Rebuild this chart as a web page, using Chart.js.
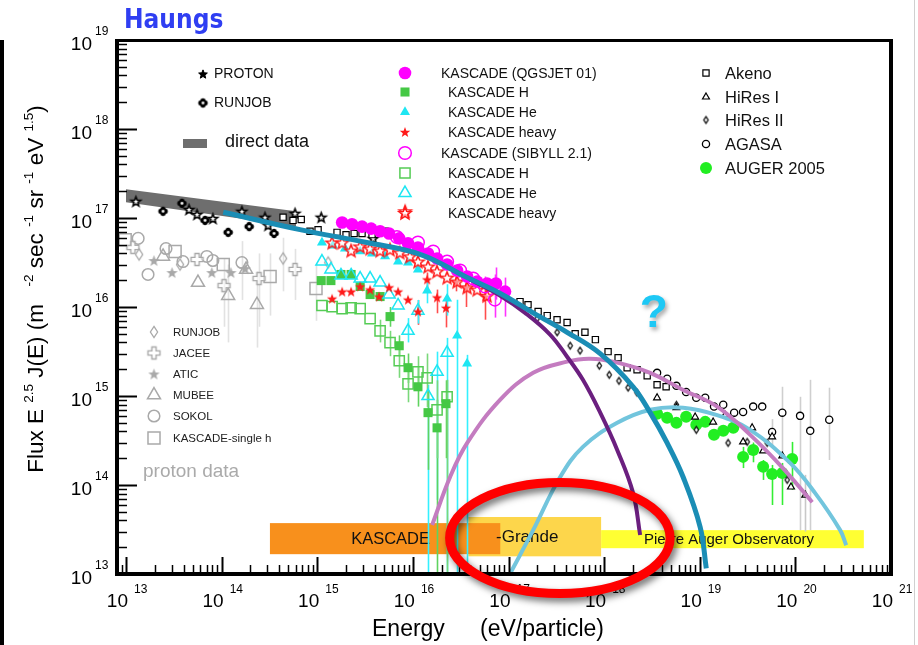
<!DOCTYPE html>
<html><head><meta charset="utf-8">
<script src="https://cdn.jsdelivr.net/npm/chart.js@4.4.1/dist/chart.umd.min.js"></script>
<style>html,body{margin:0;padding:0;background:#fff;}canvas{display:block;}</style>
</head><body>
<canvas id="c" width="918" height="645"></canvas>
<script>
// ================= DATA (energy eV, flux E^2.5 J(E)) =================
const xTickExponents = [13,14,15,16,17,18,19,20,21];
const yTickExponents = [13,14,15,16,17,18,19];

const directUpper = [[1.0e13,2.10e17],[6.0e14,1.19e17]];
const directLower = [[1.0e13,1.50e17],[6.0e14,8.0e16]];

const protonBlack = [[1.27e13,1.54e17],[4.56e13,1.25e17],[5.53e13,1.10e17],[8.1e13,9.9e16],[1.63e14,1.19e17],[2.84e14,1.02e17],[3.06e14,8.3e16],[5.86e14,1.13e17],[1.10e15,1.02e17],[3.84e15,5.9e16]];
const runjobBlack = [[2.44e13,1.19e17],[3.85e13,1.46e17],[6.7e13,9.4e16],[1.17e14,6.9e16],[1.94e14,8.0e16],[3.53e14,6.7e16]];

const runjobGray = [[1.37e13,3.89e16],[3.67e13,3.00e16],[4.39e14,3.51e16,1.5e16,6.0e16],[1.30e15,3.16e16]];
const jacee = [[1.18e13,4.67e16],[5.53e13,3.42e16],[1.06e14,1.74e16,6.0e15,3.5e16],[2.46e14,2.09e16,6.0e15,4.0e16],[5.86e14,2.64e16,1.2e16,4.5e16]];
const atic = [[1.96e13,3.33e16],[3.03e13,2.44e16],[7.9e13,2.44e16],[1.25e14,2.44e16],[1.76e14,2.70e16]];
const mubee = [[2.44e13,3.70e16],[5.66e13,1.88e16],[1.17e14,1.34e16,4.0e15,3.0e16],[1.80e14,2.64e16],[2.34e14,1.06e16,3.5e15,2.5e16]];
const sokol = [[1.34e13,5.9e16],[1.70e13,2.32e16],[2.62e13,4.54e16],[3.94e13,3.24e16],[7.0e13,3.70e16],[8.1e13,3.33e16],[1.63e14,3.16e16,1.2e16,5.5e16]];
const kascadeSingleH = [[9.8e12,5.7e16],[3.26e13,4.21e16],[1.04e14,3.00e16],[3.21e14,2.20e16,8.0e15,4.0e16],[9.7e14,1.61e16,7.0e15,3.0e16]];

const kascadeQgsAll = [[1.82e15,8.9e16],[2.31e15,8.5e16],[2.94e15,8.0e16],[3.66e15,7.6e16],[4.54e15,7.1e16],[5.64e15,6.7e16],[7.2e15,5.9e16],[8.9e15,5.2e16],[1.13e16,4.67e16],[1.44e16,3.99e16],[1.79e16,3.51e16],[2.28e16,3.00e16],[2.90e16,2.57e16],[3.69e16,2.20e16],[4.70e16,1.93e16],[5.97e16,1.84e16],[7.4e16,1.84e16,1.21e16,2.78e16],[9.2e16,1.49e16,7.8e15,2.14e16]];
const kascadeQgsH = [[1.10e15,1.98e16],[1.39e15,1.98e16],[1.77e15,2.32e16],[2.26e15,2.32e16],[2.81e15,1.70e16],[3.57e15,1.38e16],[4.54e15,1.31e16],[5.77e15,7.8e15,6.0e15,1.0e16],[7.2e15,3.67e15,2.8e15,4.8e15],[8.9e15,2.08e15,1.4e15,3.0e15],[1.13e16,1.27e15,7.6e14,2.1e15],[1.44e16,6.5e14,1.48e14,1.17e15],[1.79e16,4.39e14,1.0e13,9.1e14],[2.22e16,8.2e14,2.0e14,1.5e15]];
const kascadeQgsHe = [[1.12e15,5.3e16],[1.46e15,4.91e16],[1.95e15,4.54e16],[2.81e15,4.21e16],[3.74e15,3.99e16],[5.12e15,3.70e16],[7.0e15,3.24e16],[8.9e15,3.16e16],[1.13e16,2.64e16],[1.41e16,1.53e16,1.1e16,2.0e16],[2.28e16,1.24e16,8.0e15,1.8e16],[2.90e16,4.76e15,1.0e13,1.21e16],[3.69e16,2.31e15,1.0e13,2.9e15]];
const kascadeQgsHeavy = [[1.43e15,1.24e16],[1.82e15,1.49e16],[2.26e15,1.49e16],[2.81e15,1.70e16],[3.57e15,1.57e16],[4.43e15,1.31e16],[5.64e15,1.66e16],[7.0e15,1.49e16],[8.9e15,1.21e16],[1.13e16,8.9e15,6.3e15,1.2e16],[1.41e16,2.04e16,1.57e16,2.44e16],[1.79e16,1.28e16,8.5e15,1.57e16],[2.22e16,9.8e15,5.9e15,1.3e16],[2.83e16,1.93e16,1.5e16,2.3e16],[3.61e16,1.66e16,1.0e16,2.14e16],[5.69e16,1.31e16,7.2e15,1.7e16]];
const kascadeSibAll = [[6.8e15,6.1e16],[1.13e16,5.3e16],[1.63e16,4.2e16],[2.28e16,3.24e16],[3.12e16,2.57e16],[4.27e16,2.09e16],[5.69e16,1.70e16,1.3e16,2.2e16],[7.2e16,1.21e16,7.6e15,2.32e16]];
const kascadeSibH = [[1.12e15,1.04e16],[1.43e15,1.01e16],[1.82e15,9.6e15],[2.26e15,9.8e15],[2.81e15,9.6e15],[3.57e15,7.4e15],[4.54e15,5.4e15,4.0e15,7.2e15],[5.77e15,3.97e15,2.8e15,5.4e15],[7.2e15,2.49e15,1.6e15,3.6e15],[8.9e15,1.37e15,8.5e14,2.2e15],[1.13e16,1.87e15,1.2e15,2.8e15],[1.41e16,1.60e15,7.5e14,3.0e15],[1.79e16,7.0e14,2.0e14,1.5e15],[2.28e16,9.8e14,1.0e13,1.52e15]];
const kascadeSibHe = [[1.12e15,3.24e16],[1.39e15,2.64e16],[1.77e15,2.26e16],[2.26e15,2.26e16],[2.81e15,2.09e16],[3.57e15,2.09e16],[4.54e15,1.88e16],[5.64e15,1.38e16],[7.0e15,1.04e16],[8.9e15,5.4e15,4.0e15,7.5e15],[1.13e16,9.1e15,6.5e15,1.2e16],[1.44e16,1.00e15,1.0e13,1.34e15],[1.79e16,1.87e15,6.8e13,3.15e15],[2.28e16,3.06e15,1.0e13,4.5e15]];
const kascadeSibHeavy = [[1.43e15,5.3e16],[1.82e15,5.3e16],[2.26e15,4.31e16],[2.81e15,4.79e16],[3.57e15,4.54e16],[4.54e15,4.31e16],[5.77e15,4.43e16],[7.3e15,4.10e16],[8.3e15,1.19e17],[9.3e15,3.70e16],[1.13e16,3.24e16],[1.44e16,2.85e16],[1.79e16,2.51e16],[2.28e16,2.14e16],[2.90e16,1.93e16],[3.69e16,1.66e16],[4.70e16,1.57e16],[5.97e16,1.34e16]];

const akeno = [[4.39e14,1.02e17],[5.58e14,9.4e16],[6.8e14,9.6e16],[8.4e14,7.1e16],[1.02e15,7.4e16],[1.61e15,6.9e16],[2.00e15,6.5e16],[2.43e15,6.7e16],[2.94e15,6.7e16],[3.74e15,6.5e16],[5.12e15,7.1e16],[1.25e16,4.10e16],[1.79e16,3.42e16],[1.32e17,1.15e16],[1.60e17,1.06e16],[2.04e17,8.9e15],[2.54e17,8.0e15],[3.22e17,7.2e15],[4.1e17,6.7e15],[4.98e17,5.0e15],[6.3e17,5.2e15],[8.1e17,4.30e15],[1.10e18,3.15e15],[1.40e18,2.69e15],[1.74e18,2.08e15],[2.21e18,1.97e15],[2.82e18,1.69e15],[3.58e18,1.34e15],[4.45e18,1.27e15]];
const hiresI = [[3.58e18,9.55e14],[5.7e18,7.4e14],[8.95e18,5.8e14],[1.38e19,5.1e14],[1.84e19,6.1e14],[2.84e19,3.05e14],[3.53e19,4.39e14],[4.60e19,2.42e14],[5.71e19,3.48e14],[7.3e19,2.12e14],[9.0e19,9.5e13],[1.27e20,7.7e13,3.0e13,1.3e14]];
const hiresII = [[1.99e17,7.4e15],[3.22e17,5.2e15],[4.41e17,3.67e15],[5.6e17,3.23e15],[8.9e17,2.19e15],[1.13e18,1.73e15],[1.43e18,1.48e15],[1.78e18,1.24e15],[2.21e18,1.09e15],[5.7e18,7.96e14],[9.2e18,4.16e14],[1.98e19,2.97e14],[3.13e19,3.05e14],[5.07e19,2.97e14],[8.2e19,1.14e14]];
const agasa = [[3.58e18,1.82e15],[4.56e18,1.56e15],[5.7e18,1.30e15],[7.2e18,1.11e15],[9.2e18,9.55e14],[1.14e19,9.55e14],[1.41e19,7.6e14],[1.76e19,7.96e14],[2.29e19,6.5e14],[2.84e19,6.6e14],[3.62e19,7.6e14],[4.50e19,7.6e14],[5.71e19,3.95e14,2.7e14,5.5e14],[7.3e19,6.5e14,1.96e14,1.27e15],[1.12e20,5.98e14,3.11e13,9.8e14],[1.43e20,4.06e14,3.11e13,1.52e15],[2.26e20,5.4e14,1.91e14,1.24e15]];
const auger2005 = [[3.58e18,6.3e14],[4.56e18,5.69e14],[5.7e18,4.99e14],[7.2e18,5.84e14],[9.2e18,4.74e14],[1.14e19,5.12e14],[1.41e19,3.66e14],[1.76e19,4.06e14],[2.24e19,4.39e14],[2.84e19,2.07e14,1.55e14,2.68e14],[3.62e19,2.48e14,1.8e14,3.0e14],[4.60e19,1.60e14,1.14e14,1.91e14],[5.71e19,1.33e14,5.96e13,1.68e14],[7.3e19,1.36e14,5.96e13,1.77e14],[9.25e19,1.96e14,8.8e13,3.05e14]];

const fitAll = [[1.04e14,1.16e17],[6.6e14,7.4e16],[3.3e15,5.3e16],[1.19e16,3.9e16],[3.7e16,2.14e16],[8.2e16,1.42e16],[1.81e17,8.6e15],[4.1e17,5.2e15],[9.1e17,2.99e15],[2.01e18,1.27e15],[3.03e18,6.5e14],[4.56e18,2.97e14],[6.7e18,1.23e14],[1.01e19,3.37e13],[1.17e19,1.16e13]];
const fitGalactic = [[3.96e16,2.04e16],[8.2e16,1.34e16],[1.49e17,8.6e15],[2.72e17,4.9e15],[4.1e17,2.76e15],[6.0e17,1.52e15],[9.1e17,6.5e14],[1.37e18,2.48e14],[2.01e18,8.1e13],[2.38e18,2.74e13]];
const fitSecond = [[1.59e16,3.55e13],[2.45e16,1.23e14],[3.7e16,2.97e14],[8.2e16,9.1e14],[1.81e17,1.82e15],[4.1e17,2.43e15],[7.1e17,2.62e15],[1.37e18,2.37e15],[3.03e18,1.82e15],[6.7e18,1.17e15],[1.52e19,7.6e14],[3.37e19,3.66e14],[7.4e19,1.55e14],[1.50e20,6.4e13]];
const fitExtragal = [[1.06e17,1.05e13],[1.81e17,3.11e13],[3.47e17,1.23e14],[6.0e17,2.68e14],[1.37e18,4.99e14],[3.03e18,7.0e14],[6.7e18,7.4e14],[1.52e19,6.1e14],[3.37e19,4.16e14],[8.8e19,1.77e14],[1.61e20,8.1e13],[2.94e20,3.11e13],[3.40e20,2.11e13]];

// experiment energy ranges
const expNames = ['-Grande','KASCADE','Pierre Auger Observatory'];
const expEmin  = [3.8e16, 3.2e14, 9.3e17];
const expEmax  = [9.3e17, 8.2e16, 5.2e20];

// ================= STYLE / LAYOUT =================
const FONT = '"Liberation Sans", Arial, sans-serif';
const expStyle = [
  {color:'#fdd64b', fMin:1.58e13, fMax:4.37e13, textX:496, align:'left', size:17},
  {color:'#f8901c', fMin:1.67e13, fMax:3.73e13, textX:430, align:'right', size:16.5},
  {color:'#ffff33', fMin:1.95e13, fMax:3.11e13, textX:644, align:'left', size:15}
];
const ellipseBox = {eMin:2.42e16, eMax:4.9e18, fMin:6.04e12, fMax:1.07e14};
const questionAt = {e:3.3e18, f:8.2e15};

function mk(w,h){const c=document.createElement('canvas');c.width=w;c.height=h;return c;}
function starCanvas(R,r,fill,stroke,lw){
  const s=Math.ceil(2*R+lw+3), c=mk(s,s), g=c.getContext('2d'), cx=s/2, cy=s/2+R*0.1;
  g.beginPath();
  for(let i=0;i<10;i++){const a=-Math.PI/2+i*Math.PI/5, rr=i%2?r:R; g.lineTo(cx+rr*Math.cos(a),cy+rr*Math.sin(a));}
  g.closePath();
  if(fill){g.fillStyle=fill;g.fill();}
  if(stroke){g.strokeStyle=stroke;g.lineWidth=lw;g.lineJoin='miter';g.stroke();}
  return c;
}
function crossCanvas(a,w,stroke,lw){
  const s=Math.ceil(2*a+lw+3), c=mk(s,s), g=c.getContext('2d'), o=s/2;
  const pts=[[-w,-a],[w,-a],[w,-w],[a,-w],[a,w],[w,w],[w,a],[-w,a],[-w,w],[-a,w],[-a,-w],[-w,-w]];
  g.beginPath(); pts.forEach(p=>g.lineTo(o+p[0],o+p[1])); g.closePath();
  g.fillStyle='rgba(255,255,255,0.6)'; g.fill();
  g.strokeStyle=stroke; g.lineWidth=lw; g.stroke(); return c;
}
function diamondCanvas(hw,hh,stroke,lw,fill){
  const sw=Math.ceil(2*hw+lw+3), sh=Math.ceil(2*hh+lw+3), c=mk(sw,sh), g=c.getContext('2d');
  g.beginPath(); g.moveTo(sw/2,sh/2-hh); g.lineTo(sw/2+hw,sh/2); g.lineTo(sw/2,sh/2+hh); g.lineTo(sw/2-hw,sh/2); g.closePath();
  if(fill){g.fillStyle=fill;g.fill();}
  g.strokeStyle=stroke; g.lineWidth=lw; g.stroke(); return c;
}
function runjobCanvas(r){
  const s=Math.ceil(2*r+3), c=mk(s,s), g=c.getContext('2d'), o=s/2;
  g.fillStyle='#000';
  for(let k=0;k<4;k++){const a=k*Math.PI/2; g.beginPath(); g.arc(o+Math.cos(a)*r*0.45,o+Math.sin(a)*r*0.45,r*0.58,0,2*Math.PI); g.fill();}
  g.fillStyle='#fff'; g.beginPath(); g.arc(o,o,r*0.3,0,2*Math.PI); g.fill();
  return c;
}

const CYAN='#1ee6f2', MAG='#ff00ff', RED='#ff1a1a', GRN='#45c845', GRAY='#a9a9a9';
const st = {
  protonBlack:{pointStyle:starCanvas(5,2.1,'#fff','#000',1.6)},
  protonLegend:{pointStyle:starCanvas(4.6,2,'#000','#000',1)},
  runjobBlack:{pointStyle:runjobCanvas(4.6)},
  runjobGray:{pointStyle:diamondCanvas(3.6,5.6,GRAY,1.3)},
  jacee:{pointStyle:crossCanvas(6,2.1,GRAY,1.4)},
  atic:{pointStyle:starCanvas(6,2.5,GRAY,null,0)},
  mubee:{pointStyle:'triangle',radius:7.5,bg:'rgba(255,255,255,0)',bc:GRAY,bw:1.5},
  sokol:{pointStyle:'circle',radius:5.8,bg:'rgba(255,255,255,0)',bc:GRAY,bw:1.5},
  kSingle:{pointStyle:'rect',radius:8.5,bg:'rgba(255,255,255,0)',bc:GRAY,bw:1.5},
  qAll:{pointStyle:'circle',radius:6.3,bg:MAG,bc:MAG,bw:0},
  qH:{pointStyle:'rect',radius:6.4,bg:GRN,bc:GRN,bw:0},
  qHe:{pointStyle:'triangle',radius:5.8,bg:CYAN,bc:CYAN,bw:0},
  qHeavy:{pointStyle:starCanvas(5.5,2.3,RED,null,0)},
  sAll:{pointStyle:'circle',radius:6.3,bg:'rgba(255,255,255,0)',bc:MAG,bw:1.5},
  sH:{pointStyle:'rect',radius:7.2,bg:'rgba(255,255,255,0)',bc:'#55cc55',bw:1.5},
  sHe:{pointStyle:'triangle',radius:7,bg:'rgba(255,255,255,0)',bc:CYAN,bw:1.5},
  sHeavy:{pointStyle:starCanvas(6.5,2.8,'rgba(255,255,255,0.5)',RED,1.5)},
  akeno:{pointStyle:'rect',radius:4.4,bg:'#fff',bc:'#000',bw:1.2},
  hiresI:{pointStyle:'triangle',radius:4,bg:'#fff',bc:'#000',bw:1.2},
  hiresII:{pointStyle:diamondCanvas(2.2,3.4,'#000',1.2,'#fff')},
  agasa:{pointStyle:'circle',radius:3.6,bg:'#fff',bc:'#000',bw:1.3},
  auger:{pointStyle:'circle',radius:6,bg:'#22ee22',bc:'#22ee22',bw:0}
};

function pts(arr){return arr.map(p=>({x:p[0],y:p[1],yMin:p[2],yMax:p[3]}));}
function ptSet(label,arr,s,errColor){
  return {label,data:pts(arr),showLine:false,pointStyle:s.pointStyle,pointRadius:s.radius||5,
    pointBackgroundColor:s.bg||'#000',pointBorderColor:s.bc||'#000',pointBorderWidth:s.bw||0,
    errColor:errColor||null,clip:false};
}
function curve(label,arr,color,w){
  return {label,data:pts(arr),showLine:true,borderColor:color,borderWidth:w,pointRadius:0,tension:0.4,fill:false,borderCapStyle:'butt'};
}

const datasets = [
  curve('fit all',fitAll,'#1a8db5',5),
  curve('fit galactic',fitGalactic,'#6b1f7f',4),
  curve('fit second',fitSecond,'#c47cc0',4),
  curve('fit extragalactic',fitExtragal,'#72c5dd',4),
  ptSet('KASCADE (QGSJET 01)',kascadeQgsAll,st.qAll,'#ff33ff'),
  ptSet('KASCADE (SIBYLL 2.1)',kascadeSibAll,st.sAll,'#ff33ff'),
  ptSet('KASCADE heavy S',kascadeSibHeavy,st.sHeavy,'#ff4d4d'),
  ptSet('KASCADE heavy Q',kascadeQgsHeavy,st.qHeavy,'#ff4d4d'),
  ptSet('KASCADE He Q',kascadeQgsHe,st.qHe,'#33f0ff'),
  ptSet('KASCADE He S',kascadeSibHe,st.sHe,'#33f0ff'),
  ptSet('KASCADE H Q',kascadeQgsH,st.qH,'#5fd35f'),
  ptSet('KASCADE H S',kascadeSibH,st.sH,'#7ad87a'),
  ptSet('Akeno',akeno,st.akeno),
  ptSet('HiRes I',hiresI,st.hiresI,'#c8c8c8'),
  ptSet('HiRes II',hiresII,st.hiresII),
  ptSet('AGASA',agasa,st.agasa,'#cfcfcf'),
  ptSet('AUGER 2005',auger2005,st.auger,'#33ee33'),
  ptSet('PROTON',protonBlack,st.protonBlack),
  ptSet('RUNJOB',runjobBlack,st.runjobBlack),
  ptSet('RUNJOB p',runjobGray,st.runjobGray,'#e2e2e2'),
  ptSet('JACEE',jacee,st.jacee,'#e2e2e2'),
  ptSet('ATIC',atic,st.atic,'#e2e2e2'),
  ptSet('MUBEE',mubee,st.mubee,'#e2e2e2'),
  ptSet('SOKOL',sokol,st.sokol,'#e2e2e2'),
  ptSet('KASCADE-single h',kascadeSingleH,st.kSingle,'#e2e2e2'),
  {label:'direct upper',data:pts(directUpper),showLine:true,borderWidth:0,pointRadius:0,fill:false,borderColor:'rgba(0,0,0,0)'},
  {label:'direct lower',data:pts(directLower),showLine:true,borderWidth:0,pointRadius:0,fill:'-1',borderColor:'rgba(0,0,0,0)',backgroundColor:'#6e6e6e'}
];

// ================= HELPERS =================
function marker(ctx,s,x,y){
  const ps=s.pointStyle;
  if(typeof ps==='object'){ctx.drawImage(ps,x-ps.width/2,y-ps.height/2);return;}
  const r=s.radius; ctx.save(); ctx.fillStyle=s.bg; ctx.strokeStyle=s.bc; ctx.lineWidth=s.bw; ctx.beginPath();
  if(ps==='circle') ctx.arc(x,y,r,0,2*Math.PI);
  else if(ps==='triangle'){for(let k=0;k<3;k++){const a=-Math.PI/2+k*2*Math.PI/3;ctx.lineTo(x+r*Math.cos(a),y+r*Math.sin(a));}ctx.closePath();}
  else {const h=r*Math.SQRT1_2; ctx.rect(x-h,y-h,2*h,2*h);}
  ctx.fill(); if(s.bw>0) ctx.stroke(); ctx.restore();
}
function rich(ctx,parts,x,y,align,base,sup,raise){
  let w=0; parts.forEach(p=>{ctx.font=(p[1]?sup:base)+'px '+FONT; w+=ctx.measureText(p[0]).width;});
  let cx=align==='center'?x-w/2:align==='right'?x-w:x;
  ctx.textAlign='left'; ctx.textBaseline='alphabetic';
  parts.forEach(p=>{ctx.font=(p[1]?sup:base)+'px '+FONT; ctx.fillText(p[0],cx,y-(p[1]?raise:0)); cx+=ctx.measureText(p[0]).width;});
  return w;
}

const overlay = {
  id:'overlay',
  beforeDatasetsDraw(chart){
    const {ctx,chartArea:a,scales:{x,y}}=chart;
    ctx.save();
    expNames.forEach((n,i)=>{
      const s=expStyle[i], x0=x.getPixelForValue(expEmin[i]), x1=x.getPixelForValue(expEmax[i]);
      const y0=y.getPixelForValue(s.fMax), y1=y.getPixelForValue(s.fMin);
      ctx.fillStyle=s.color; ctx.fillRect(x0,y0,x1-x0,y1-y0);
    });
    expNames.forEach((n,i)=>{
      const s=expStyle[i], yc=(y.getPixelForValue(s.fMax)+y.getPixelForValue(s.fMin))/2;
      ctx.fillStyle='#111'; ctx.font=s.size+'px '+FONT; ctx.textAlign=s.align; ctx.textBaseline='middle';
      ctx.fillText(n,s.textX,yc+1);
    });
    ctx.beginPath(); ctx.rect(a.left,a.top,a.right-a.left,a.bottom-a.top); ctx.clip();
    chart.data.datasets.forEach(ds=>{
      if(!ds.errColor) return;
      ctx.strokeStyle=ds.errColor; ctx.lineWidth=1.6;
      ds.data.forEach(p=>{
        if(p.yMin==null) return;
        const px=Math.round(x.getPixelForValue(p.x))+0.5;
        ctx.beginPath(); ctx.moveTo(px,y.getPixelForValue(p.yMin)); ctx.lineTo(px,y.getPixelForValue(p.yMax)); ctx.stroke();
      });
    });
    ctx.restore();
  },
  afterDatasetsDraw(chart){
    const {ctx,chartArea:a,scales:{x,y}}=chart;
    ctx.save();
    ctx.fillStyle='#000';
    ctx.fillRect(a.left-2,a.top-1,4,a.bottom-a.top+3);
    ctx.fillRect(a.left-2,a.bottom-2,a.right-a.left+4,4);
    ctx.fillRect(a.left-2,a.top-1,a.right-a.left+4,3);
    ctx.fillRect(a.right-2,a.top-1,4,a.bottom-a.top+3);
    ctx.strokeStyle='#000';
    for(let d=12;d<=20;d++) for(let m=1;m<=9;m++){
      const v=m*Math.pow(10,d); if(v<x.min||v>x.max) continue;
      const px=Math.round(x.getPixelForValue(v))+0.5;
      ctx.lineWidth=m===1?2:1.5; ctx.beginPath(); ctx.moveTo(px,a.bottom); ctx.lineTo(px,a.bottom-(m===1?17:9)); ctx.stroke();
    }
    for(let d=13;d<=18;d++) for(let m=1;m<=9;m++){
      const v=m*Math.pow(10,d); if(v<y.min||v>y.max) continue;
      const py=Math.round(y.getPixelForValue(v))+0.5;
      ctx.lineWidth=m===1?2:1.5; ctx.beginPath(); ctx.moveTo(a.left,py); ctx.lineTo(a.left+(m===1?20:10),py); ctx.stroke();
    }
    ctx.fillStyle='#000';
    yTickExponents.forEach(e=>{
      const py=y.getPixelForValue(Math.pow(10,e));
      ctx.font='19px '+FONT; ctx.textAlign='right'; ctx.textBaseline='alphabetic'; ctx.fillText('10',92,py+10);
      ctx.font='12px '+FONT; ctx.textAlign='left'; ctx.fillText(String(e),95,py-5);
    });
    xTickExponents.forEach(e=>{
      const px=x.getPixelForValue(Math.pow(10,e));
      ctx.font='19px '+FONT; ctx.textAlign='right'; ctx.textBaseline='alphabetic'; ctx.fillText('10',px+2,607);
      ctx.font='12px '+FONT; ctx.textAlign='left'; ctx.fillText(String(e),px+8,593);
    });
    ctx.font='23px '+FONT; ctx.textAlign='left'; ctx.fillText('Energy',372,636);
    ctx.fillText('(eV/particle)',480,636);
    ctx.save(); ctx.translate(43,289); ctx.rotate(-Math.PI/2);
    rich(ctx,[['Flux E ',0],['2.5',1],[' J(E) (m ',0],['   -2',1],[' sec ',0],['-1',1],[' sr ',0],['-1',1],[' eV ',0],['1.5',1],[')',0]],0,0,'center',22.5,13.5,10);
    ctx.restore();
    ctx.fillStyle='#2f3ef2'; ctx.font='bold 26px "Liberation Sans Narrow", "DejaVu Sans Condensed", sans-serif';
    ctx.textAlign='left'; ctx.fillText('Haungs',124,28);
    ctx.fillStyle='#111'; ctx.textBaseline='middle'; ctx.textAlign='left';
    marker(ctx,st.protonLegend,203,74); marker(ctx,st.runjobBlack,203,103);
    ctx.font='14px '+FONT; ctx.fillText('PROTON',214,74); ctx.fillText('RUNJOB',214,103);
    ctx.fillStyle='#6e6e6e'; ctx.fillRect(183,139,24,9);
    ctx.fillStyle='#111'; ctx.font='18px '+FONT; ctx.fillText('direct data',225,142);
    const leg2=[['KASCADE (QGSJET 01)',st.qAll,73,441],['KASCADE H',st.qH,92,448],['KASCADE He',st.qHe,112,448],['KASCADE heavy',st.qHeavy,132,448],
      ['KASCADE (SIBYLL 2.1)',st.sAll,153,441],['KASCADE H',st.sH,173,448],['KASCADE He',st.sHe,193,448],['KASCADE heavy',st.sHeavy,213,448]];
    ctx.font='14px '+FONT;
    leg2.forEach(l=>{marker(ctx,l[1],405,l[2]); ctx.fillStyle='#111'; ctx.fillText(l[0],l[3],l[2]+1);});
    const leg3=[['Akeno',st.akeno,73],['HiRes I',st.hiresI,97],['HiRes II',st.hiresII,120],['AGASA',st.agasa,144],['AUGER 2005',st.auger,168]];
    ctx.font='16.5px '+FONT;
    leg3.forEach(l=>{marker(ctx,l[1],706,l[2]); ctx.fillStyle='#111'; ctx.fillText(l[0],725,l[2]+1);});
    const leg4=[['RUNJOB',st.runjobGray,332],['JACEE',st.jacee,353],['ATIC',st.atic,374],['MUBEE',st.mubee,395],['SOKOL',st.sokol,416],['KASCADE-single h',st.kSingle,438]];
    ctx.font='11.5px '+FONT;
    leg4.forEach(l=>{marker(ctx,l[1],154,l[2]); ctx.fillStyle='#222'; ctx.fillText(l[0],173,l[2]+1);});
    ctx.fillStyle='#aaa'; ctx.font='19px '+FONT; ctx.fillText('proton data',143,472);
    ctx.save(); ctx.shadowColor='rgba(0,0,0,0.35)'; ctx.shadowBlur=4; ctx.shadowOffsetX=2; ctx.shadowOffsetY=3;
    ctx.fillStyle='#1ec8f5'; ctx.font='bold 46px '+FONT; ctx.textAlign='center'; ctx.textBaseline='middle';
    ctx.fillText('?',x.getPixelForValue(questionAt.e),y.getPixelForValue(questionAt.f)); ctx.restore();
    ctx.restore();
  },
  afterDraw(chart){
    const {ctx,scales:{x,y}}=chart;
    ctx.save();
    ctx.fillStyle='#000'; ctx.fillRect(0,40,4,605);
    ctx.fillStyle='#d0d0d0'; ctx.fillRect(914,0,1,645);
    const x0=x.getPixelForValue(ellipseBox.eMin), x1=x.getPixelForValue(ellipseBox.eMax);
    const y0=y.getPixelForValue(ellipseBox.fMax), y1=y.getPixelForValue(ellipseBox.fMin);
    ctx.shadowColor='rgba(0,0,0,0.55)'; ctx.shadowBlur=7; ctx.shadowOffsetX=3; ctx.shadowOffsetY=4;
    ctx.strokeStyle='#ff0000'; ctx.lineWidth=9;
    ctx.beginPath(); ctx.ellipse((x0+x1)/2,(y0+y1)/2,(x1-x0)/2,(y1-y0)/2,0,0,2*Math.PI); ctx.stroke();
    ctx.restore();
  }
};

new Chart(document.getElementById('c'),{
  type:'scatter',
  data:{datasets},
  options:{
    responsive:false, animation:false, devicePixelRatio:1,
    layout:{padding:{left:117,top:40,right:27,bottom:71}},
    plugins:{legend:{display:false},tooltip:{enabled:false}},
    scales:{
      x:{type:'logarithmic',min:8.05e12,max:1e21,display:false},
      y:{type:'logarithmic',min:1e13,max:1e19,display:false}
    }
  },
  plugins:[overlay]
});
</script>
</body></html>
